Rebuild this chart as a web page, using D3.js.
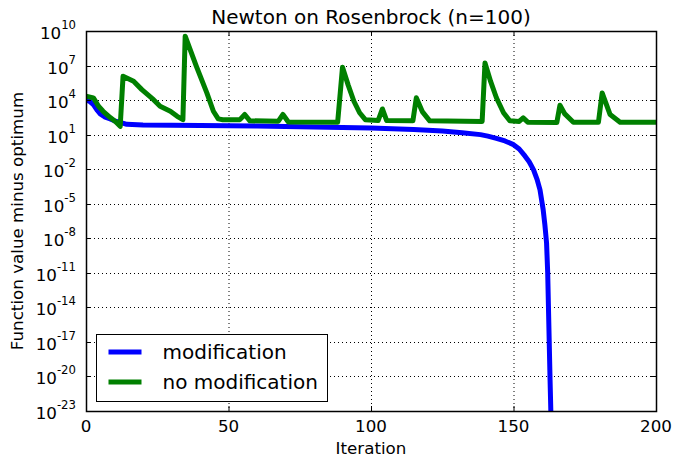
<!DOCTYPE html>
<html lang="en">
<head>
<meta charset="utf-8">
<title>Newton on Rosenbrock (n=100)</title>
<script src="https://d3js.org/d3.v7.min.js"></script>
<style>
    body { margin: 0; background: #fff; }
    text { font-family: "DejaVu Sans", sans-serif; fill: #000; }
</style>
</head>
<body>
<div id="chart"></div>
<script>
    // iteration numbers and log10(f - f*)
    const modIter = [0, 1.5, 2.6, 4, 5, 6.5, 8.5, 10, 12, 14.3, 20, 40, 60, 80, 100, 115, 125, 132, 138.4, 141, 144, 147, 150, 152, 154, 155.5, 157, 158.3, 159.3, 160.4, 161, 161.6, 162, 162.4, 162.8, 163.3];
    const modLog  = [4.04, 3.85, 3.6, 3.1, 2.8, 2.55, 2.37, 2.2, 2.07, 1.9, 1.84, 1.8, 1.74, 1.67, 1.58, 1.45, 1.32, 1.17, 1.0, 0.87, 0.68, 0.45, 0.13, -0.25, -0.85, -1.35, -2.04, -2.9, -3.8, -5.5, -6.8, -8.4, -11, -15.5, -20, -25];

    const noModIter = [0, 2.6, 4.4, 6, 8.5, 10.5, 12, 13, 16.7, 19.6, 23.7, 26, 29.6, 32, 34, 34.8, 38.7, 42.4, 44.7, 46.4, 48, 54, 55.7, 57.5, 67.5, 69.1, 71, 88.3, 90, 92, 94, 96, 98, 102.5, 104, 105.5, 114.7, 115.9, 118, 120.6, 139, 140, 142, 144, 146.5, 148.7, 152, 153.4, 155, 165.2, 166.3, 168, 171, 179.8, 181.1, 183.9, 187.4, 200];
    const noModLog  = [4.33, 4.19, 3.46, 3.03, 2.48, 2.1, 1.72, 6.07, 5.63, 4.91, 4.04, 3.46, 3.03, 2.59, 2.3, 9.55, 6.94, 4.62, 3.03, 2.37, 2.3, 2.3, 2.75, 2.2, 2.17, 2.75, 2.1, 2.07, 6.85, 5.3, 3.9, 2.9, 2.3, 2.22, 3.23, 2.22, 2.2, 4.2, 3.0, 2.2, 2.15, 7.23, 5.6, 4.2, 2.9, 2.2, 2.15, 2.45, 2.08, 2.05, 3.55, 2.8, 2.08, 2.08, 4.62, 2.74, 2.07, 2.07];

    const xTicks = [0, 50, 100, 150, 200];
    const yTickExps = [-23, -20, -17, -14, -11, -8, -5, -2, 1, 4, 7, 10];
    const seriesNames = ["modification", "no modification"];
    const seriesColors = ["#0000ff", "#008000"];

    const W = 675, H = 457;
    const margin = {top: 31, right: 19, bottom: 46, left: 86};
    const w = W - margin.left - margin.right, h = H - margin.top - margin.bottom;

    const svg = d3.select("#chart").append("svg")
        .attr("width", W).attr("height", H);

    const x = d3.scaleLinear().domain([0, 200]).range([0, w]);
    const y = d3.scaleLog().domain([1e-23, 1e10]).range([h, 0]);

    const g = svg.append("g").attr("transform", `translate(${margin.left},${margin.top})`);

    g.append("clipPath").attr("id", "clip")
        .append("rect").attr("width", w).attr("height", h);

    // grid
    const grid = g.append("g").attr("stroke", "#000").attr("stroke-width", 1)
        .attr("stroke-dasharray", "1,3");
    xTicks.slice(1, -1).forEach(t => {
        grid.append("line").attr("x1", x(t) + 0.5).attr("x2", x(t) + 0.5)
            .attr("y1", 0).attr("y2", h);
    });
    yTickExps.slice(1, -1).forEach(e => {
        grid.append("line").attr("y1", Math.round(y(Math.pow(10, e))) + 0.5)
            .attr("y2", Math.round(y(Math.pow(10, e))) + 0.5)
            .attr("x1", 0).attr("x2", w);
    });

    // lines
    const line = d3.line()
        .x(d => x(d[0]))
        .y(d => y(Math.pow(10, d[1])));

    const series = [
        modIter.map((it, i) => [it, modLog[i]]),
        noModIter.map((it, i) => [it, noModLog[i]])
    ];

    series.forEach((s, i) => {
        g.append("path")
            .datum(s)
            .attr("clip-path", "url(#clip)")
            .attr("fill", "none")
            .attr("stroke", seriesColors[i])
            .attr("stroke-width", 5)
            .attr("stroke-linejoin", "round")
            .attr("d", line);
    });

    // frame and inward ticks on all four sides
    const frame = g.append("g").attr("stroke", "#000").attr("stroke-width", 1);
    xTicks.forEach(t => {
        const px = x(t) + 0.5;
        frame.append("line").attr("x1", px).attr("x2", px).attr("y1", h).attr("y2", h - 5);
        frame.append("line").attr("x1", px).attr("x2", px).attr("y1", 0).attr("y2", 5);
    });
    yTickExps.forEach(e => {
        const py = Math.round(y(Math.pow(10, e))) + 0.5;
        frame.append("line").attr("x1", 0).attr("x2", 5).attr("y1", py).attr("y2", py);
        frame.append("line").attr("x1", w).attr("x2", w - 5).attr("y1", py).attr("y2", py);
    });
    g.append("rect").attr("x", 0.5).attr("y", 0.5).attr("width", w).attr("height", h)
        .attr("fill", "none").attr("stroke", "#000").attr("stroke-width", 1.5);

    // tick labels
    xTicks.forEach(t => {
        g.append("text").attr("x", x(t)).attr("y", h + 21)
            .attr("text-anchor", "middle").style("font-size", "16.7px").text(t);
    });
    yTickExps.forEach(e => {
        const py = y(Math.pow(10, e));
        const txt = g.append("text").attr("x", -10).attr("y", py + 8)
            .attr("text-anchor", "end").style("font-size", "16.7px");
        txt.append("tspan").text("10");
        txt.append("tspan").attr("dy", -10).style("font-size", "11.7px").text(e);
    });

    // title and axis labels
    svg.append("text").attr("x", margin.left + w / 2).attr("y", 23.5)
        .attr("text-anchor", "middle").style("font-size", "20px")
        .text("Newton on Rosenbrock (n=100)");
    svg.append("text").attr("x", margin.left + w / 2).attr("y", 453.5)
        .attr("text-anchor", "middle").style("font-size", "16.7px")
        .text("Iteration");
    svg.append("text").attr("transform", `translate(23,${margin.top + h / 2}) rotate(-90)`)
        .attr("text-anchor", "middle").style("font-size", "16.7px")
        .text("Function value minus optimum");

    // legend
    const lg = svg.append("g").attr("transform", "translate(96.5,334.5)");
    lg.append("rect").attr("width", 231).attr("height", 67)
        .attr("fill", "#fff").attr("stroke", "#000").attr("stroke-width", 1);
    seriesNames.forEach((name, i) => {
        const yy = 17.5 + i * 30;
        lg.append("line").attr("x1", 12).attr("x2", 45).attr("y1", yy).attr("y2", yy)
            .attr("stroke", seriesColors[i]).attr("stroke-width", 5);
        lg.append("text").attr("x", 66).attr("y", yy + 7)
            .style("font-size", "20px").text(name);
    });
</script>
</body>
</html>
